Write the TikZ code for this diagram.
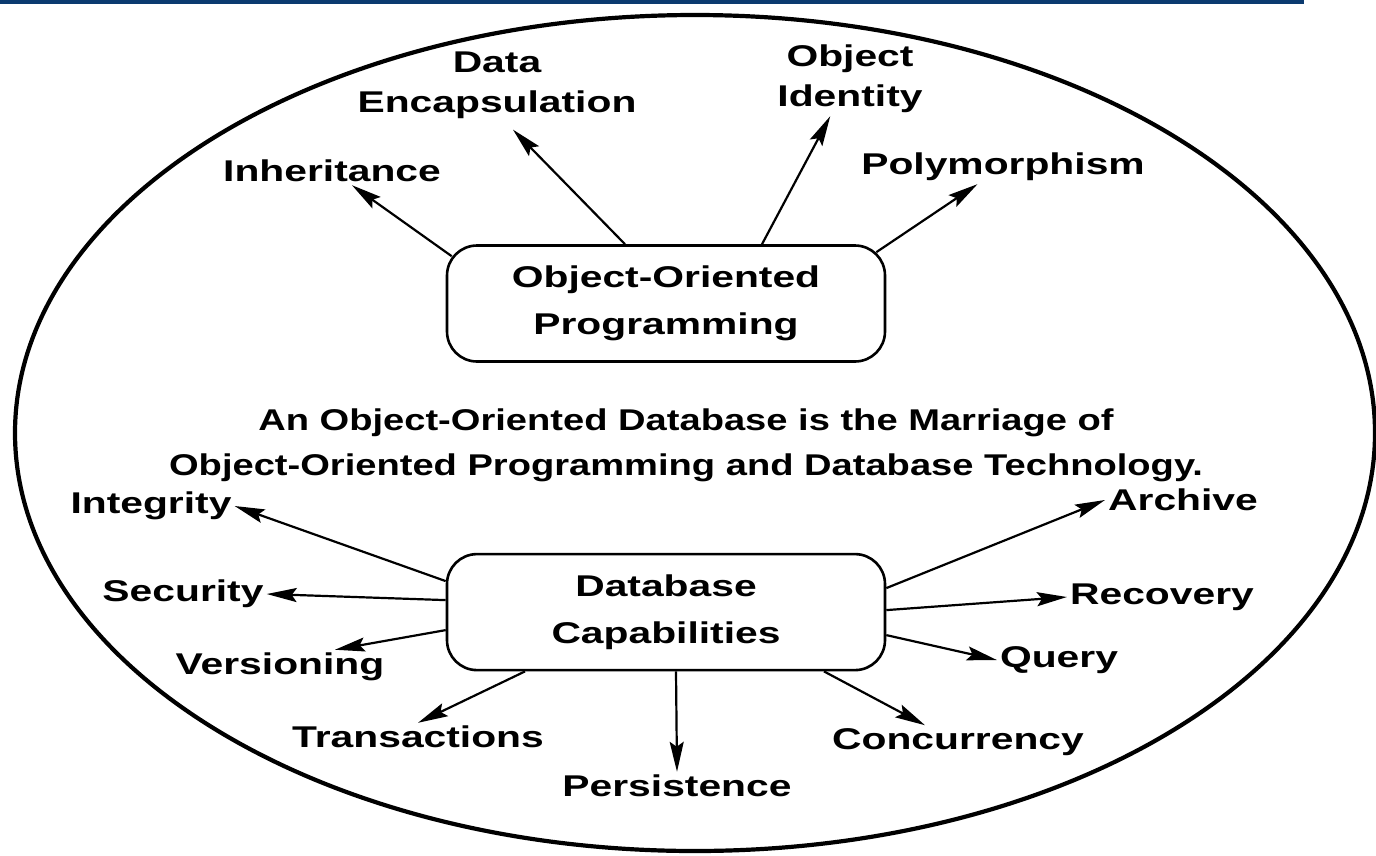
\documentclass[tikz,border=0pt]{standalone}
\usepackage{fontspec}
\newfontfamily\diagfont{Liberation Sans}[FakeStretch=1.36]
\newfontfamily\headfont{Liberation Sans}[FakeStretch=1.27]
\usetikzlibrary{arrows.meta, positioning, calc}
\definecolor{bar_blue}{HTML}{0B3A6F}
\tikzset{
  capbox/.style={draw=black,line width=2.6pt,rounded corners=30pt,minimum width=438pt,minimum height=116pt,align=center,inner sep=0pt,font=\diagfont\bfseries\fontsize{30}{47}\selectfont},
  feature/.style={align=center,inner sep=3pt,font=\diagfont\bfseries\fontsize{30}{40}\selectfont},
  headline/.style={align=center,font=\headfont\bfseries\fontsize{30}{45}\selectfont},
  feat/.style={line width=2.2pt,-{Stealth[length=30pt,width=14pt,inset=5pt]}},
}

\begin{document}
\begin{tikzpicture}[x=1pt,y=-1pt]
 \useasboundingbox (0,0) rectangle (1376,855);
 \fill[bar_blue] (0,0) rectangle (1304,4);
 \draw[line width=4.2pt] (695,433) ellipse [x radius=680pt, y radius=418pt];
	    \node[capbox] (oop) at (666,303.5) {Object-Oriented\\Programming};
	    \node[capbox,below=190pt of oop] (dbc) {Database\\Capabilities};
	    \node[headline] (mrg) at (686,445) {An Object-Oriented Database is the Marriage of\\Object-Oriented Programming and Database Technology.};
	    % object-oriented side
	    \node[feature] (inh) at (332,171) {Inheritance};
	    \node[feature] (dat) at (497,85) {Data\\Encapsulation};
	    \node[feature] (oid) at (850,79) {Object\\Identity};
	    \node[feature] (pol) at (1003,167) {Polymorphism};
	    % database side
	    \node[feature] (itg) at (151,506) {Integrity};
	    \node[feature] (sec) at (183,594) {Security};
	    \node[feature] (ver) at (280,667) {Versioning};
	    \node[feature] (trn) at (418,737) {Transactions};
	    \node[feature] (per) at (677,786) {Persistence};
	    \node[feature] (ccy) at (958,742) {Concurrency};
	    \node[feature] (qry) at (1059,660) {Query};
	    \node[feature] (rcv) at (1162,597) {Recovery};
	    \node[feature] (arv) at (1183,500) {Archive};
	    \draw[feat] ($(oop.north west)+(6,12)$) -- (inh);
	    \draw[feat] ($(oop.north)+(-41,0)$) -- ($(dat.south)+(16,8)$);
	    \draw[feat] ($(oop.north)+(96,0)$) -- (oid);
	    \draw[feat] ($(oop.north east)+(-10,8)$) -- (pol);
	    \draw[feat] ($(dbc.west)+(0,-31)$) -- (itg.east);
	    \draw[feat] ($(dbc.west)+(0,-12)$) -- (sec.east);
	    \draw[feat] ($(dbc.west)+(0,18)$) -- ($(ver.north)+(55,0)$);
	    \draw[feat] ($(dbc.south)+(-141,0)$) -- (trn.north);
	    \draw[feat] ($(dbc.south)+(10,0)$) -- (per.north);
	    \draw[feat] ($(dbc.south)+(158,0)$) -- ($(ccy.north)+(-33,0)$);
	    \draw[feat] ($(dbc.east)+(0,23)$) -- (qry.west);
	    \draw[feat] ($(dbc.east)+(0,-2)$) -- (rcv.west);
	    \draw[feat] ($(dbc.east)+(0,-24)$) -- (arv.west);
\end{tikzpicture}
\end{document}
